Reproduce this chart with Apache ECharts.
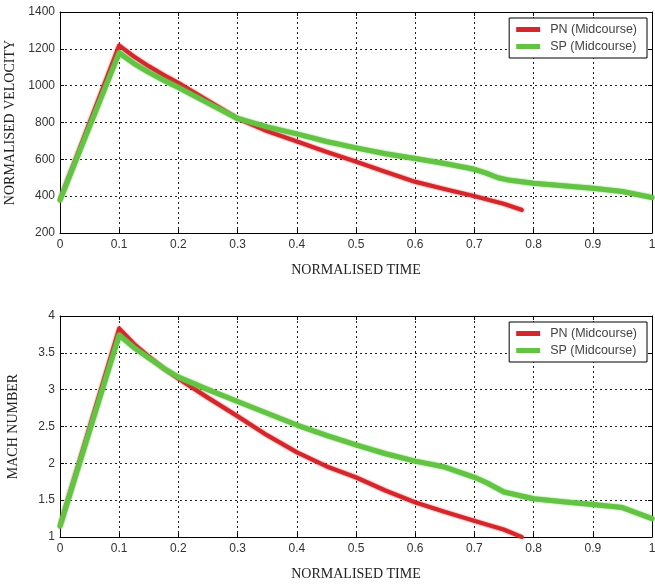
<!DOCTYPE html>
<html>
<head>
<meta charset="utf-8">
<script src="https://cdn.jsdelivr.net/npm/echarts@6/dist/echarts.min.js"></script>
<style>html,body{margin:0;padding:0;background:#fff;}#c{width:655px;height:586px;}</style>
</head>
<body>
<div id="c"></div>
<script>
// ---- data ----
const pnVelT = [0, 0.1, 0.125, 0.15, 0.175, 0.2, 0.25, 0.3, 0.35, 0.4, 0.45, 0.5, 0.55, 0.6, 0.65, 0.7, 0.75, 0.78];
const pnVel  = [380, 1218, 1158, 1105, 1058, 1015, 918, 822, 753, 698, 641, 588, 532, 478, 438, 400, 358, 325];
const spVelT = [0, 0.1, 0.125, 0.15, 0.175, 0.2, 0.25, 0.3, 0.35, 0.4, 0.45, 0.5, 0.55, 0.6, 0.65, 0.7, 0.72, 0.74, 0.76, 0.8, 0.85, 0.9, 0.95, 1.0];
const spVel  = [380, 1178, 1120, 1072, 1029, 990, 905, 822, 776, 738, 697, 662, 630, 605, 577, 546, 525, 500, 486, 470, 457, 443, 425, 393];

const pnMachT = [0, 0.1, 0.125, 0.15, 0.175, 0.2, 0.25, 0.3, 0.35, 0.4, 0.45, 0.5, 0.55, 0.6, 0.65, 0.7, 0.75, 0.78];
const pnMach  = [1.15, 3.83, 3.62, 3.45, 3.29, 3.15, 2.89, 2.64, 2.38, 2.15, 1.96, 1.81, 1.63, 1.47, 1.34, 1.22, 1.10, 1.0];
const spMachT = [0, 0.1, 0.125, 0.15, 0.175, 0.2, 0.25, 0.3, 0.35, 0.4, 0.45, 0.5, 0.55, 0.6, 0.65, 0.7, 0.72, 0.75, 0.8, 0.85, 0.9, 0.95, 1.0];
const spMach  = [1.15, 3.74, 3.57, 3.43, 3.29, 3.17, 3.0, 2.84, 2.68, 2.52, 2.38, 2.25, 2.13, 2.03, 1.95, 1.81, 1.74, 1.61, 1.52, 1.48, 1.44, 1.40, 1.25];

const xTicks = [0, 0.1, 0.2, 0.3, 0.4, 0.5, 0.6, 0.7, 0.8, 0.9, 1];
const seriesNames = ['PN (Midcourse)', 'SP (Midcourse)'];
const xName = 'NORMALISED TIME';
const yNames = ['NORMALISED VELOCITY', 'MACH NUMBER'];

const RED = '#d5262b';
const GREEN = '#63c444';
const zip = (a, b) => a.map((v, i) => [v, b[i]]);

const labelFont = {fontFamily: 'Liberation Sans, Arial', fontSize: 12, color: '#333'};
const nameFont = {fontFamily: 'Liberation Serif, Times New Roman', fontSize: 14, color: '#222'};
const gridLine = {show: true, lineStyle: {color: '#222', type: [2, 3], width: 1}};

function xAx(gi, main) {
  return {
    type: 'value', gridIndex: gi, min: 0, max: 1, interval: 0.1,
    position: main ? 'bottom' : 'top',
    name: main ? xName : '', nameLocation: 'middle', nameGap: 30, nameTextStyle: nameFont,
    axisLine: {show: true, onZero: false, lineStyle: {color: '#000', width: 1}},
    axisTick: {show: true, inside: true, length: 4, lineStyle: {color: '#000'}},
    axisLabel: {show: main, ...labelFont, margin: 6, formatter: v => String(+v.toFixed(1))},
    splitLine: main ? gridLine : {show: false}
  };
}
function yAx(gi, main, min, max, interval, name) {
  return {
    type: 'value', gridIndex: gi, min, max, interval,
    position: main ? 'left' : 'right',
    name: main ? name : '', nameLocation: 'middle', nameGap: 40, nameRotate: 90, nameTextStyle: nameFont,
    axisLine: {show: true, onZero: false, lineStyle: {color: '#000', width: 1}},
    axisTick: {show: true, inside: true, length: 4, lineStyle: {color: '#000'}},
    axisLabel: {show: main, ...labelFont, margin: 5, formatter: v => String(+v.toFixed(1))},
    splitLine: main ? gridLine : {show: false}
  };
}

function line(name, data, color, xi, yi, w) {
  return {
    name, type: 'line', data, xAxisIndex: xi, yAxisIndex: yi,
    showSymbol: false, symbol: 'none', smooth: false,
    lineStyle: {color, width: w, shadowColor: color, shadowBlur: 2, join: 'round', cap: 'round'},
    itemStyle: {color}, z: name === seriesNames[0] ? 3 : 4
  };
}

const legendCommon = {
  orient: 'vertical', right: 8, data: seriesNames,
  backgroundColor: '#fff', borderColor: '#000', borderWidth: 1,
  padding: [5, 10, 5, 7], itemGap: 4, itemWidth: 24, itemHeight: 5, icon: 'rect',
  textStyle: {fontFamily: 'Liberation Sans, Arial', fontSize: 12.5, color: '#444', padding: [0, 0, 0, 5]}
};

const chart = echarts.init(document.getElementById('c'), null, {renderer: 'canvas'});
chart.setOption({
  animation: false,
  backgroundColor: '#fff',
  grid: [
    {left: 60, right: 3, top: 12, height: 221, containLabel: false, outerBoundsMode: 'none'},
    {left: 60, right: 3, top: 316, height: 221, containLabel: false, outerBoundsMode: 'none'}
  ],
  legend: [
    {...legendCommon, top: 18},
    {...legendCommon, top: 322}
  ],
  xAxis: [xAx(0, true), xAx(1, true), xAx(0, false), xAx(1, false)],
  yAxis: [
    yAx(0, true, 200, 1400, 200, yNames[0]),
    yAx(1, true, 1, 4, 0.5, yNames[1]),
    yAx(0, false, 200, 1400, 200, ''),
    yAx(1, false, 1, 4, 0.5, '')
  ],
  series: [
    line(seriesNames[0], zip(pnVelT, pnVel), RED, 0, 0, 4),
    line(seriesNames[1], zip(spVelT, spVel), GREEN, 0, 0, 5),
    line(seriesNames[0], zip(pnMachT, pnMach), RED, 1, 1, 4),
    line(seriesNames[1], zip(spMachT, spMach), GREEN, 1, 1, 5)
  ]
});
</script>
</body>
</html>
